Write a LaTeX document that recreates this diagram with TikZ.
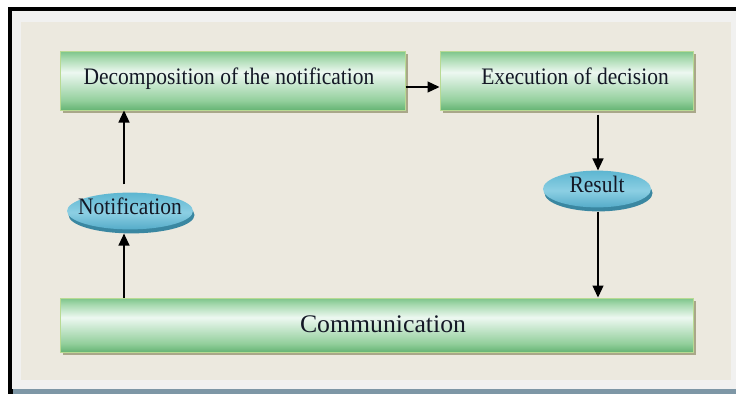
\documentclass[tikz,border=0pt]{standalone}
\usepackage{fontspec}
\setmainfont{Liberation Serif}
\usetikzlibrary{arrows.meta,shapes.geometric,shadows}

% palette
\definecolor{pagebg}{HTML}{ECE9DF}
\definecolor{rimgray}{HTML}{F1F1F0}
\definecolor{barblue}{HTML}{7E97A6}
\definecolor{boxshadow}{HTML}{A9A789}
\definecolor{boxborder}{HTML}{B8DA93}
\definecolor{gTop}{HTML}{7CC489}
\definecolor{gUp}{HTML}{A6D9AE}
\definecolor{gLight}{HTML}{EDF8F1}
\definecolor{gMid}{HTML}{93CF9C}
\definecolor{gBot}{HTML}{66B474}
\definecolor{eTop}{HTML}{5DB6D1}
\definecolor{eMid}{HTML}{8CCFE3}
\definecolor{eBot}{HTML}{55ACC9}
\definecolor{eRim}{HTML}{3A87A1}
\definecolor{inkcol}{HTML}{141826}

% glossy green bar and blue pill shadings
\pgfdeclareverticalshading{greenbar}{100bp}{color(0bp)=(gBot); color(25bp)=(gBot); color(33bp)=(gMid); color(57bp)=(gLight); color(69bp)=(gUp); color(75bp)=(gTop); color(100bp)=(gTop)}
\pgfdeclareverticalshading{bluepill}{100bp}{color(0bp)=(eBot); color(25bp)=(eBot); color(48bp)=(eMid); color(75bp)=(eTop); color(100bp)=(eTop)}

% slightly tall lettering
\newcommand{\tallword}[1]{\scalebox{1}[1.1]{#1}}

\tikzset{
  stepbox/.style={rectangle, draw=boxborder, line width=1pt, shading=greenbar,
    inner sep=0pt, text=inkcol, font=\fontsize{21.5}{24}\selectfont,
    text height=16pt, text depth=9pt,
    drop shadow={shadow xshift=3pt, shadow yshift=-3pt, fill=boxshadow, opacity=1}},
  pill/.style={ellipse, draw=none, shading=bluepill, inner sep=0pt, text=inkcol,
    font=\fontsize{21.5}{24}\selectfont, text height=16pt, text depth=10pt,
    drop shadow={shadow xshift=1.5pt, shadow yshift=-4pt, fill=eRim, opacity=1}},
  flow/.style={line width=1.3pt, draw=black, -{Triangle[length=12pt,width=11pt]}}
}

\begin{document}
\begin{tikzpicture}[x=1pt,y=-1pt]
  \useasboundingbox (0,0) rectangle (736,394);
  % window frame
  \fill[white] (0,0) rectangle (736,394);
  \fill[black] (8,7) rectangle (736,394);
  \fill[rimgray] (12,11) rectangle (736,389);
  \fill[pagebg] (21,22) rectangle (731,380);
  \fill[barblue] (13,389) rectangle (736,394);

  % process boxes
  \node[stepbox, minimum width=345pt, minimum height=59pt] (dec) at (232.5,80.5)
    {\tallword{Decomposition of the notification}\kern7pt};
  \node[stepbox, minimum width=253pt, minimum height=59pt] (exe) at (566.5,80.5)
    {\kern17pt\tallword{Execution of decision}};
  \node[stepbox, minimum width=633pt, minimum height=54pt, text height=17pt, text depth=3pt] (com) at (376.5,325)
    {\kern13pt\scalebox{1.12}[1.1]{\fontsize{23}{26}\selectfont Communication}};

  % message pills
  \node[pill, minimum width=126pt, minimum height=36pt] (note) at (130,211)
    {\makebox[0pt]{\tallword{Notification}}};
  \node[pill, minimum width=108pt, minimum height=34pt] (res) at (597,189)
    {\makebox[0pt]{\tallword{Result}}};

  % guide lines for the vertical connectors
  \coordinate (lx) at (124,0);
  \coordinate (rx) at (598,0);

  % connectors
  \draw[flow] ([yshift=-6.5pt]dec.east) -- ([yshift=-6.5pt]exe.west);
  \draw[flow, shorten <=4pt] (exe.south -| rx) -- (res.north -| rx);
  \draw[flow, shorten <=4pt] (res.south -| rx) -- (com.north -| rx);
  \draw[flow] (com.north -| lx) -- ([yshift=-4pt]note.south -| lx);
  \draw[flow, shorten <=8pt] (note.north -| lx) -- (dec.south -| lx);
\end{tikzpicture}
\end{document}
